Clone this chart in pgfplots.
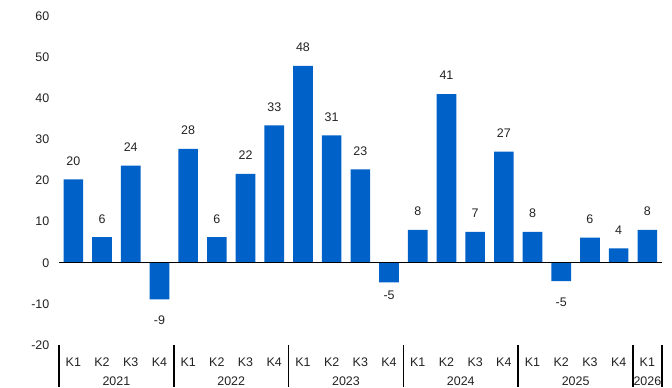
\documentclass[border=0pt]{standalone}
\usepackage{pgfplots}
\usepackage{pgfplotstable}
\pgfplotsset{compat=1.18}
\usepackage{fontspec}
\setmainfont{Liberation Sans}
\definecolor{barblue}{RGB}{0,97,200}
\definecolor{txt}{RGB}{34,34,34}
\pgfplotstableread{
x y lab dy
0 20.3 20 18.5
1 6.2 6 18.5
2 23.6 24 18.5
3 -8.9 -9 -20.7
4 27.7 28 18.5
5 6.2 6 18.5
6 21.6 22 18.5
7 33.4 33 18.5
8 47.9 48 18.5
9 31.0 31 18.5
10 22.7 23 18.5
11 -4.8 -5 -12.5
12 8.0 8 18.5
13 41.0 41 18.5
14 7.5 7 18.5
15 27.0 27 18.5
16 7.5 8 18.5
17 -4.5 -5 -21
18 6.1 6 18.5
19 3.5 4 18.5
20 8.0 8 18.5
}\datatable
\newcommand{\lblfont}{\fontsize{12.5}{14}\selectfont}
\begin{document}
\begin{tikzpicture}
\begin{axis}[
  scale only axis,
  width=602.7bp, height=329bp,
  xmin=-0.5, xmax=20.5,
  ymin=-20, ymax=60,
  axis line style={draw=none},
  major tick length=0,
  tick style={draw=none},
  ytick={-20,-10,0,10,20,30,40,50,60},
  yticklabels={-20,-10,0,10,20,30,40,50,60},
  yticklabel style={anchor=east, inner sep=0pt, xshift=-9.5bp, font=\lblfont, text=txt},
  xtick={0,...,20},
  xticklabels={K1,K2,K3,K4,K1,K2,K3,K4,K1,K2,K3,K4,K1,K2,K3,K4,K1,K2,K3,K4,K1},
  xticklabel style={anchor=center, inner sep=0pt, yshift=-17.5bp, font=\lblfont, text=txt},
  clip=false,
  point meta=explicit symbolic,
  nodes near coords,
  visualization depends on={\thisrow{dy} \as \dy},
  every node near coord/.append style={anchor=center, yshift=\dy pt, font=\lblfont, text=txt, inner sep=0pt},
]
\addplot[ybar, bar width=0.685, fill=barblue, draw=none] table[x=x, y=y, meta=lab] {\datatable};
\draw[black, line width=1.5bp] (axis cs:-0.5,0) -- (axis cs:20.5,0);
\pgfplotsinvokeforeach{-0.5,3.5,7.5,11.5,15.5,19.5,20.5}{
  \draw[black, line width=1.6bp] (axis cs:#1,-20) -- ([yshift=-42bp]axis cs:#1,-20);
}
\node[font=\lblfont, text=txt, inner sep=0pt] at ([yshift=-36bp]axis cs:1.5,-20) {2021};
\node[font=\lblfont, text=txt, inner sep=0pt] at ([yshift=-36bp]axis cs:5.5,-20) {2022};
\node[font=\lblfont, text=txt, inner sep=0pt] at ([yshift=-36bp]axis cs:9.5,-20) {2023};
\node[font=\lblfont, text=txt, inner sep=0pt] at ([yshift=-36bp]axis cs:13.5,-20) {2024};
\node[font=\lblfont, text=txt, inner sep=0pt] at ([yshift=-36bp]axis cs:17.5,-20) {2025};
\node[font=\lblfont, text=txt, inner sep=0pt] at ([yshift=-36bp]axis cs:20,-20) {2026};
\coordinate (ll) at (rel axis cs:0,0);
\coordinate (ur) at (rel axis cs:1,1);
\end{axis}
\path (ll) ++(-59bp,-42bp) coordinate (A);
\path (ur) ++(10.3bp,16bp) coordinate (B);
\path (A) rectangle (B);
\end{tikzpicture}
\end{document}
